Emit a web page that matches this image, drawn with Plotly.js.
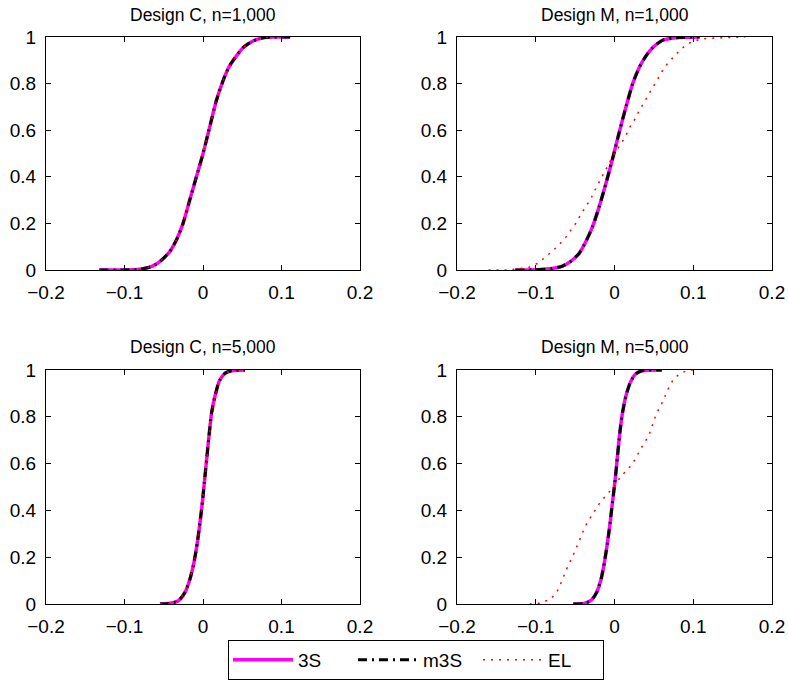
<!DOCTYPE html>
<html><head><meta charset="utf-8">
<script src="https://cdn.plot.ly/plotly-3.0.1.min.js"></script>
<style>body{margin:0;background:#fff}#g{width:788px;height:684px}</style>
</head><body><div id="g"></div>
<script>
// Design C, n=1,000 (3S, m3S and EL coincide)
const c1x = [-0.132,-0.100,-0.081,-0.066,-0.055,-0.0426,-0.034,-0.0255,-0.017,-0.0085,0.000,0.0085,0.017,0.0255,0.034,0.0426,0.051,0.0638,0.0766,0.090,0.111];
const c1y = [0.000,0.000,0.003,0.014,0.036,0.078,0.128,0.199,0.299,0.399,0.499,0.613,0.727,0.812,0.877,0.919,0.954,0.983,0.997,1.000,1.000];
// Design M, n=1,000
const m1x = [-0.126,-0.100,-0.079,-0.066,-0.056,-0.045,-0.0365,-0.028,-0.0195,-0.011,-0.0025,0.006,0.0144,0.0229,0.0314,0.040,0.0484,0.061,0.078,0.108];
const m1y = [0.000,0.001,0.006,0.017,0.036,0.071,0.121,0.185,0.271,0.370,0.477,0.591,0.698,0.798,0.869,0.919,0.954,0.986,0.997,1.000];
const m1elx = [-0.160,-0.134,-0.109,-0.098,-0.0896,-0.081,-0.0726,-0.062,-0.0556,-0.0484,-0.0433,-0.0365,-0.030,-0.025,-0.0195,-0.0132,-0.008,-0.0017,0.008,0.0144,0.0195,0.026,0.0314,0.0378,0.0433,0.049,0.0548,0.0603,0.0667,0.074,0.082,0.091,0.100,0.116,0.133,0.166];
const m1ely = [0.000,0.000,0.011,0.028,0.050,0.074,0.100,0.140,0.171,0.204,0.235,0.271,0.306,0.342,0.377,0.413,0.449,0.491,0.541,0.577,0.613,0.648,0.684,0.719,0.755,0.786,0.819,0.852,0.883,0.912,0.940,0.966,0.983,0.994,0.997,1.000];
// Design C, n=5,000 (3S, m3S and EL coincide)
const c5x = [-0.0548,-0.042,-0.0314,-0.0229,-0.0166,-0.0115,-0.0072,-0.0038,-0.0008,0.0017,0.0047,0.0076,0.011,0.0153,0.0208,0.028,0.0365,0.0535];
const c5y = [0.000,0.003,0.014,0.050,0.107,0.178,0.263,0.349,0.434,0.519,0.619,0.718,0.818,0.889,0.953,0.986,0.997,1.000];
// Design M, n=5,000
const m5x = [-0.0523,-0.0374,-0.029,-0.0226,-0.017,-0.0128,-0.0089,-0.0055,-0.0026,0.0009,0.0038,0.0068,0.0102,0.0145,0.020,0.0264,0.035,0.060];
const m5y = [0.000,0.003,0.018,0.050,0.107,0.178,0.263,0.349,0.434,0.533,0.633,0.733,0.818,0.889,0.946,0.982,0.997,1.000];
const m5elx = [-0.1077,-0.093,-0.080,-0.0723,-0.068,-0.0638,-0.0587,-0.0536,-0.0494,-0.0447,-0.040,-0.0353,-0.030,-0.0238,-0.0183,-0.0098,-0.0013,0.0072,0.0136,0.020,0.0264,0.0328,0.0413,0.0464,0.0498,0.054,0.0596,0.0638,0.069,0.0753,0.0838,0.0945,0.106];
const m5ely = [0.000,0.004,0.024,0.057,0.090,0.128,0.166,0.199,0.235,0.270,0.309,0.344,0.373,0.405,0.434,0.467,0.498,0.541,0.565,0.588,0.619,0.661,0.707,0.743,0.783,0.818,0.854,0.889,0.925,0.963,0.986,1.000,1.000];

const titles = ['Design C, n=1,000','Design M, n=1,000','Design C, n=5,000','Design M, n=5,000'];
const seriesNames = ['3S','m3S','EL'];
const xTicks = [-0.2,-0.1,0,0.1,0.2];
const yTicks = [0,0.2,0.4,0.6,0.8,1];

const panels = [
  {x:c1x,y:c1y,ex:c1x,ey:c1y},
  {x:m1x,y:m1y,ex:m1elx,ey:m1ely},
  {x:c5x,y:c5y,ex:c5x,ey:c5y},
  {x:m5x,y:m5y,ex:m5elx,ey:m5ely}
];

const traces = [];
panels.forEach((p,i)=>{
  const xa = i===0?'x':'x'+(i+1), ya = i===0?'y':'y'+(i+1);
  const sl = i===0;
  traces.push({x:p.x,y:p.y,xaxis:xa,yaxis:ya,mode:'lines',name:seriesNames[0],legendgroup:'a',showlegend:sl,
    line:{color:'#ff00ff',width:3.5,shape:'spline',smoothing:0.6}});
  traces.push({x:p.x,y:p.y,xaxis:xa,yaxis:ya,mode:'lines',name:seriesNames[1],legendgroup:'b',showlegend:sl,
    line:{color:'#000000',width:3,dash:'9px,5px,2px,5px',shape:'spline',smoothing:0.6}});
  traces.push({x:p.ex,y:p.ey,xaxis:xa,yaxis:ya,mode:'lines',name:seriesNames[2],legendgroup:'c',showlegend:sl,
    line:{color:'#ff0000',width:1.5,dash:'2px,6px',shape:'linear'}});
});

const fam = 'Liberation Sans, Arial, sans-serif';
const tickFont = {family:fam,size:19,color:'#000'};
const titleFont = {family:fam,size:17.5,color:'#000'};
function ax(dom, anchor, isX){
  return {domain:dom,anchor:anchor,range:isX?[-0.2,0.2]:[0,1],tickvals:isX?xTicks:yTicks,
    ticks:'inside',ticklen:5,tickcolor:'#000',showline:true,mirror:'ticks',linecolor:'#000',linewidth:1,
    ticklabelstandoff:isX?5:5,
    showgrid:false,zeroline:false,tickfont:tickFont,fixedrange:true};
}
const xl=[46/788,360/788], xr=[457/788,772/788];
const yt=[(684-270)/684,(684-37)/684], yb=[(684-604)/684,(684-370)/684];
const layout = {
  width:788,height:684,margin:{l:0,r:0,t:0,b:0},paper_bgcolor:'#fff',plot_bgcolor:'#fff',font:tickFont,
  xaxis:ax(xl,'y',true), yaxis:ax(yt,'x',false),
  xaxis2:ax(xr,'y2',true), yaxis2:ax(yt,'x2',false),
  xaxis3:ax(xl,'y3',true), yaxis3:ax(yb,'x3',false),
  xaxis4:ax(xr,'y4',true), yaxis4:ax(yb,'x4',false),
  showlegend:true,
  legend:{orientation:'h',x:228/788,xanchor:'left',y:(684-640)/684,yanchor:'top',
    bordercolor:'#000',borderwidth:1,bgcolor:'#fff',font:tickFont,itemwidth:60,entrywidth:50,tracegroupgap:0},
  annotations:[
    {text:titles[0],x:(xl[0]+xl[1])/2,y:(684-15)/684},
    {text:titles[1],x:(xr[0]+xr[1])/2,y:(684-15)/684},
    {text:titles[2],x:(xl[0]+xl[1])/2,y:(684-347)/684},
    {text:titles[3],x:(xr[0]+xr[1])/2,y:(684-347)/684}
  ].map(a=>Object.assign(a,{xref:'paper',yref:'paper',showarrow:false,xanchor:'center',yanchor:'middle',font:titleFont}))
};
Plotly.newPlot('g',traces,layout,{staticPlot:true,displayModeBar:false});
</script></body></html>
